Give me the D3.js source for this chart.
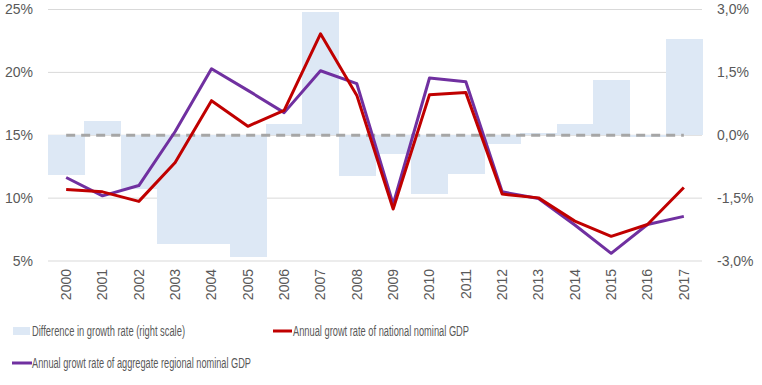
<!DOCTYPE html>
<html>
<head>
<meta charset="utf-8">
<script src="https://d3js.org/d3.v7.min.js"></script>
<style>
  body { margin: 0; background: #fff; }
  text { font-family: "Liberation Sans Narrow", "Arial Narrow", "Liberation Sans", sans-serif; fill: #595959; }
</style>
</head>
<body>
<div id="chart"></div>
<script>
var svgWidth = 762;
var svgHeight = 385;

var margin = { top: 9.5, right: 60, bottom: 124, left: 48 };
var chartWidth = svgWidth - margin.left - margin.right;
var chartHeight = svgHeight - margin.top - margin.bottom;

// data
var years = ["2000","2001","2002","2003","2004","2005","2006","2007","2008",
             "2009","2010","2011","2012","2013","2014","2015","2016","2017"];
var difference = [-0.95, 0.33, -1.29, -2.59, -2.59, -2.9, 0.26, 2.93, -0.97,
                  -0.45, -1.40, -0.92, -0.21, 0.05, 0.26, 1.33, -0.05, 2.29];
var national = [10.69, 10.5, 9.74, 12.83, 17.75, 15.71, 16.98, 23.07, 18.17,
                9.13, 18.23, 18.39, 10.32, 10.02, 8.17, 6.96, 7.9, 10.85];
var regional = [11.64, 10.18, 11.0, 15.3, 20.29, 18.57, 16.8, 20.13, 19.1,
                9.52, 19.55, 19.26, 10.5, 9.97, 7.86, 5.61, 7.9, 8.55];
var leftTicks = [5, 10, 15, 20, 25];
var rightTicks = [-3, -1.5, 0, 1.5, 3];

var svg = d3.select("#chart")
    .append("svg")
    .attr("width", svgWidth)
    .attr("height", svgHeight);

var chartGroup = svg.append("g")
    .attr("transform", `translate(${margin.left}, ${margin.top})`);

var xScale = d3.scaleBand().domain(years).range([0, chartWidth]).padding(0);
var yLeft = d3.scaleLinear().domain([5, 25]).range([chartHeight, 0]);
var yRight = d3.scaleLinear().domain([-3, 3]).range([chartHeight, 0]);

// gridlines
chartGroup.selectAll("line.grid")
    .data(leftTicks)
    .enter()
    .append("line")
    .attr("x1", 0)
    .attr("x2", chartWidth)
    .attr("y1", d => yLeft(d))
    .attr("y2", d => yLeft(d))
    .attr("stroke", "#d9d9d9")
    .attr("stroke-width", 1);

// bars (right scale)
chartGroup.selectAll("rect.bar")
    .data(difference)
    .enter()
    .append("rect")
    .attr("x", (d, i) => xScale(years[i]))
    .attr("width", xScale.bandwidth() + 0.6)
    .attr("y", d => yRight(Math.max(0, d)))
    .attr("height", d => Math.abs(yRight(d) - yRight(0)))
    .attr("fill", "#dde8f5")
    .attr("shape-rendering", "crispEdges");

// zero line dashed
var cx = d => xScale(d) + xScale.bandwidth() / 2;
chartGroup.append("line")
    .attr("x1", cx(years[0]))
    .attr("x2", cx(years[years.length - 1]))
    .attr("y1", yRight(0))
    .attr("y2", yRight(0))
    .attr("stroke", "#a6a6a6")
    .attr("stroke-width", 3)
    .attr("stroke-dasharray", "9,6");

// lines
var lineLeft = d3.line()
    .x((d, i) => cx(years[i]))
    .y(d => yLeft(d));

chartGroup.append("path")
    .datum(regional)
    .attr("d", lineLeft)
    .attr("fill", "none")
    .attr("stroke", "#7030a0")
    .attr("stroke-width", 3)
    .attr("stroke-linejoin", "round");

chartGroup.append("path")
    .datum(national)
    .attr("d", lineLeft)
    .attr("fill", "none")
    .attr("stroke", "#c00000")
    .attr("stroke-width", 3)
    .attr("stroke-linejoin", "round");

// left axis
var leftAxis = d3.axisLeft(yLeft).tickValues(leftTicks).tickSize(0).tickPadding(15)
    .tickFormat(d => d + "%");
var gl = chartGroup.append("g").call(leftAxis);
gl.select(".domain").remove();
gl.selectAll("text").attr("font-size", 14).style("font-family", null);

// right axis
var rightAxis = d3.axisRight(yRight).tickValues(rightTicks).tickSize(0).tickPadding(15)
    .tickFormat(d => d3.format(".1f")(d).replace(".", ",").replace("−", "-") + "%");
var gr = chartGroup.append("g")
    .attr("transform", `translate(${chartWidth}, 0)`)
    .call(rightAxis);
gr.select(".domain").remove();
gr.selectAll("text").attr("font-size", 14).style("font-family", null);

// x axis
var bottomAxis = d3.axisBottom(xScale).tickSize(0).tickPadding(0);
var gb = chartGroup.append("g")
    .attr("transform", `translate(0, ${chartHeight})`)
    .call(bottomAxis);
gb.select(".domain").remove();
gb.selectAll("text")
    .attr("font-size", 14)
    .style("font-family", null)
    .attr("transform", "rotate(-90)")
    .attr("text-anchor", "end")
    .attr("x", -8)
    .attr("y", 0)
    .attr("dy", "0.35em");

// legend
var legend = svg.append("g");
legend.append("rect")
    .attr("x", 13).attr("y", 327).attr("width", 17).attr("height", 8)
    .attr("fill", "#dde8f5");
legend.append("text")
    .attr("x", 32).attr("y", 331).attr("dy", "0.35em").attr("font-size", 14)
    .attr("textLength", 153).attr("lengthAdjust", "spacingAndGlyphs")
    .text("Difference in growth rate (right scale)");
legend.append("line")
    .attr("x1", 273).attr("x2", 292).attr("y1", 331).attr("y2", 331)
    .attr("stroke", "#c00000").attr("stroke-width", 3);
legend.append("text")
    .attr("x", 293).attr("y", 331).attr("dy", "0.35em").attr("font-size", 14)
    .attr("textLength", 176).attr("lengthAdjust", "spacingAndGlyphs")
    .text("Annual growt rate of national nominal GDP");
legend.append("line")
    .attr("x1", 12).attr("x2", 32).attr("y1", 363).attr("y2", 363)
    .attr("stroke", "#7030a0").attr("stroke-width", 3);
legend.append("text")
    .attr("x", 32).attr("y", 363).attr("dy", "0.35em").attr("font-size", 14)
    .attr("textLength", 219).attr("lengthAdjust", "spacingAndGlyphs")
    .text("Annual growt rate of aggregate regional nominal GDP");
</script>
</body>
</html>
